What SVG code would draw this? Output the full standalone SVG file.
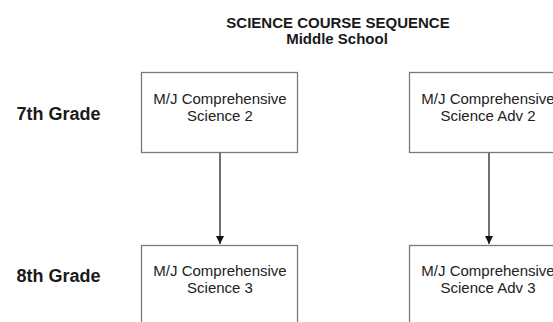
<svg xmlns="http://www.w3.org/2000/svg" width="553" height="322" viewBox="0 0 553 322">
<defs>
<style>
.title{font-family:"Liberation Sans",Arial,sans-serif;font-size:15px;font-weight:bold;fill:#1a1a1a;text-anchor:middle}
.grade{font-family:"Liberation Sans",Arial,sans-serif;font-size:18px;font-weight:bold;fill:#1a1a1a}
.box{fill:#ffffff;stroke:#7a7a7a;stroke-width:1.3}
.lbl{font-family:"Liberation Sans",Arial,sans-serif;font-size:15px;fill:#222222;text-anchor:middle}
.conn{stroke:#222222;stroke-width:1.3;fill:none}
</style>
<marker id="arr" viewBox="0 0 10 10" refX="10" refY="5" markerWidth="8" markerHeight="8" markerUnits="userSpaceOnUse" orient="auto">
<path d="M0,0 L10,5 L0,10 z" fill="#111111"/>
</marker>
</defs>
<rect width="553" height="322" fill="#ffffff"/>
<g id="title">
<text class="title" x="338" y="28">SCIENCE COURSE SEQUENCE</text>
<text class="title" x="337" y="44">Middle School</text>
</g>
<g id="grade7"><text class="grade" x="16.5" y="120">7th Grade</text></g>
<g id="grade8"><text class="grade" x="16.5" y="281.5">8th Grade</text></g>
<g id="connectors">
<line class="conn" x1="220" y1="152.5" x2="220" y2="244" marker-end="url(#arr)"/>
<line class="conn" x1="489" y1="152.5" x2="489" y2="244" marker-end="url(#arr)"/>
</g>
<g id="node-sci2">
<rect class="box" x="141.5" y="72.5" width="156" height="80"/>
<text class="lbl" x="220" y="104">M/J Comprehensive</text>
<text class="lbl" x="220" y="121">Science 2</text>
</g>
<g id="node-adv2">
<rect class="box" x="409.5" y="72.5" width="158" height="80"/>
<text class="lbl" x="488" y="104">M/J Comprehensive</text>
<text class="lbl" x="488" y="121">Science Adv 2</text>
</g>
<g id="node-sci3">
<rect class="box" x="141.5" y="245.5" width="156" height="90"/>
<text class="lbl" x="220" y="276">M/J Comprehensive</text>
<text class="lbl" x="220" y="293">Science 3</text>
</g>
<g id="node-adv3">
<rect class="box" x="409.5" y="245.5" width="158" height="90"/>
<text class="lbl" x="488" y="276">M/J Comprehensive</text>
<text class="lbl" x="488" y="293">Science Adv 3</text>
</g>
</svg>
